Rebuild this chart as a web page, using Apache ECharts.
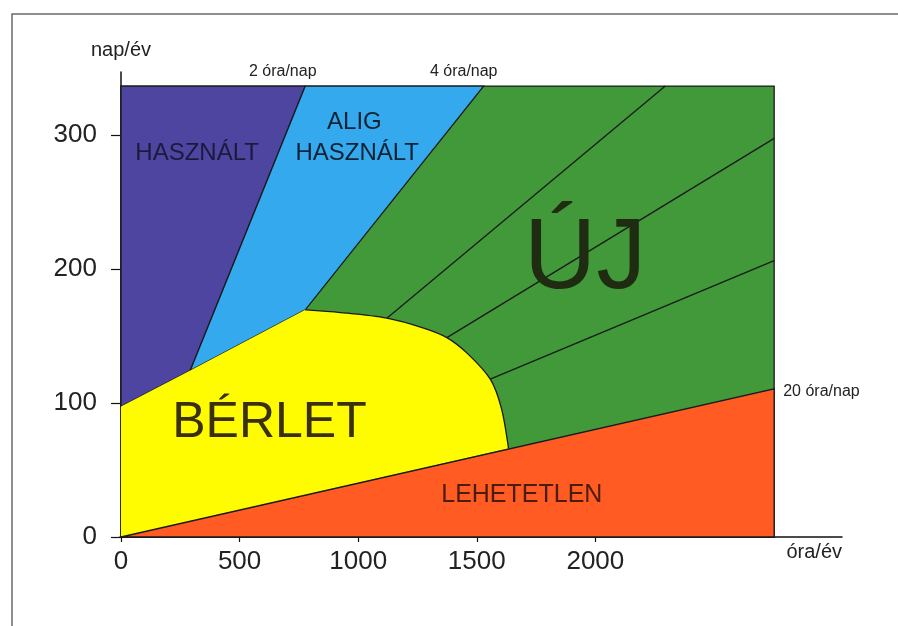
<!DOCTYPE html>
<html>
<head>
<meta charset="utf-8">
<script src="https://cdn.jsdelivr.net/npm/echarts@6/dist/echarts.min.js"></script>
<style>
  html, body { margin: 0; padding: 0; background: #fff; }
  #chart { width: 898px; height: 626px; }
</style>
</head>
<body>
<div id="chart"></div>
<script>
// tick values on the two axes
const xTicks = [0, 500, 1000, 1500, 2000];
const yTicks = [0, 100, 200, 300];

// region outlines, in [óra/év, nap/év]
const newRegion = [[0, 0], [0, 336.5], [2754, 336.5], [2754, 0]];
const usedRegion = [[0, 97.4], [0, 336.5], [777, 336.5], [292, 124.2]];
const barelyRegion = [[777, 336.5], [1529, 336.5], [777, 169.5], [292, 124.2]];
// the rounded edge of the BÉRLET area
const rentEdge = [[777, 169.5], [925, 167.5], [1121, 163.3], [1276, 155.9],
  [1374, 148.8], [1459, 137.2], [1557, 117.8], [1604, 96], [1634, 66]];
const rentRegion = [[0, 0], [0, 97.4], [292, 124.2]].concat(rentEdge);
const impossibleRegion = [[0, 0], [2754, 110.5], [2754, 0]];

// thin lines inside the ÚJ area
const dividers = [
  [[1121, 163.3], [2295, 336.5]],
  [[1374, 148.8], [2754, 297.5]],
  [[1557, 117.8], [2754, 206.3]]
];

// texts: [x, y, text]
const regionLabels = [
  [321, 286.6, "HASZNÁLT"],
  [984, 309.7, "ALIG"],
  [996, 286.6, "HASZNÁLT"],
  [1957, 206.4, "ÚJ"],
  [626, 85.0, "BÉRLET"],
  [1690, 31.3, "LEHETETLEN"]
];
const lineLabels = [
  [682, 347, "2 óra/nap"],
  [1445, 347, "4 óra/nap"],
  [2792, 108.6, "20 óra/nap"]
];

const regions = [
  { name: "új", points: newRegion, color: "#41993a", outline: true },
  { name: "használt", points: usedRegion, color: "#4e45a0", outline: true },
  { name: "alig", points: barelyRegion, color: "#35a9ee", outline: true },
  { name: "bérlet", points: rentRegion, color: "#fffb00", outline: false },
  { name: "lehetetlen", points: impossibleRegion, color: "#ff5b23", outline: true }
];

const labelStyles = [
  { size: 24, color: "#1c1a3c" },
  { size: 24, color: "#0e2233" },
  { size: 24, color: "#0e2233" },
  { size: 100, color: "#1f2c12" },
  { size: 50, color: "#3a300c" },
  { size: 25, color: "#4a1c0a" }
];

const FONT = "'Liberation Sans', Arial, sans-serif";

const chart = echarts.init(document.getElementById("chart"));

const options = {
  animation: false,
  grid: { left: 121, right: 56, top: 72, bottom: 89 },
  xAxis: {
    type: "value",
    min: 0,
    max: 3040,
    name: "óra/év",
    nameLocation: "end",
    nameGap: 0,
    nameTextStyle: { align: "right", verticalAlign: "top", padding: [5, 0, 0, 0], fontSize: 20, color: "#222", fontFamily: FONT },
    axisLine: { lineStyle: { color: "#111", width: 1.5 } },
    axisTick: { length: 5, customValues: xTicks, lineStyle: { color: "#111", width: 1.2 } },
    axisLabel: {
      customValues: xTicks,
      formatter: (v) => String(v),
      fontSize: 26,
      color: "#222",
      margin: 12,
      fontFamily: FONT
    },
    splitLine: { show: false }
  },
  yAxis: {
    type: "value",
    min: 0,
    max: 347,
    name: "nap/év",
    nameLocation: "end",
    nameGap: 12,
    nameTextStyle: { fontSize: 20, color: "#222", fontFamily: FONT },
    axisLine: { lineStyle: { color: "#111", width: 1.5 } },
    axisTick: { length: 10, customValues: yTicks, lineStyle: { color: "#111", width: 1.2 } },
    axisLabel: { customValues: yTicks, fontSize: 26, color: "#222", margin: 24, fontFamily: FONT },
    splitLine: { show: false }
  },
  graphic: [
    {
      type: "rect",
      left: 9.5,
      top: 11.5,
      shape: { width: 1000, height: 1000 },
      style: { fill: "none", stroke: "#6a6a6a", lineWidth: 1.5 },
      silent: true
    }
  ],
  series: [
    {
      type: "custom",
      clip: false,
      data: regions.map((r) => r.name),
      renderItem: (params, api) => {
        const r = regions[params.dataIndex];
        return {
          type: "polygon",
          shape: { points: r.points.map((p) => api.coord(p)) },
          style: { fill: r.color, stroke: r.outline ? "#1a1a1a" : null, lineWidth: 1.3 }
        };
      }
    },
    {
      // rounded cap of BÉRLET, filled up to its chord
      type: "custom",
      clip: false,
      data: [0],
      renderItem: (params, api) => ({
        type: "polyline",
        shape: { points: rentEdge.map((p) => api.coord(p)), smooth: 0.3 },
        style: { fill: "#fffb00", stroke: "#1a1a1a", lineWidth: 1.3 }
      })
    },
    {
      type: "custom",
      clip: false,
      data: dividers.map((d, i) => i),
      renderItem: (params, api) => {
        const d = dividers[params.dataIndex];
        return {
          type: "polyline",
          shape: { points: d.map((p) => api.coord(p)) },
          style: { fill: null, stroke: "#1a1a1a", lineWidth: 1.3 }
        };
      }
    },
    {
      type: "custom",
      clip: false,
      data: regionLabels,
      renderItem: (params, api) => {
        const pos = api.coord([api.value(0), api.value(1)]);
        const st = labelStyles[params.dataIndex];
        return {
          type: "text",
          x: pos[0],
          y: pos[1],
          style: {
            text: regionLabels[params.dataIndex][2],
            fontSize: st.size,
            fontFamily: FONT,
            fill: st.color,
            align: "center",
            verticalAlign: "middle"
          }
        };
      }
    },
    {
      type: "custom",
      clip: false,
      data: lineLabels,
      renderItem: (params, api) => {
        const pos = api.coord([api.value(0), api.value(1)]);
        const last = params.dataIndex === lineLabels.length - 1;
        return {
          type: "text",
          x: pos[0],
          y: pos[1],
          style: {
            text: lineLabels[params.dataIndex][2],
            fontSize: 16,
            fontFamily: FONT,
            fill: "#222",
            align: last ? "left" : "center",
            verticalAlign: "middle"
          }
        };
      }
    }
  ]
};

chart.setOption(options);
</script>
</body>
</html>
